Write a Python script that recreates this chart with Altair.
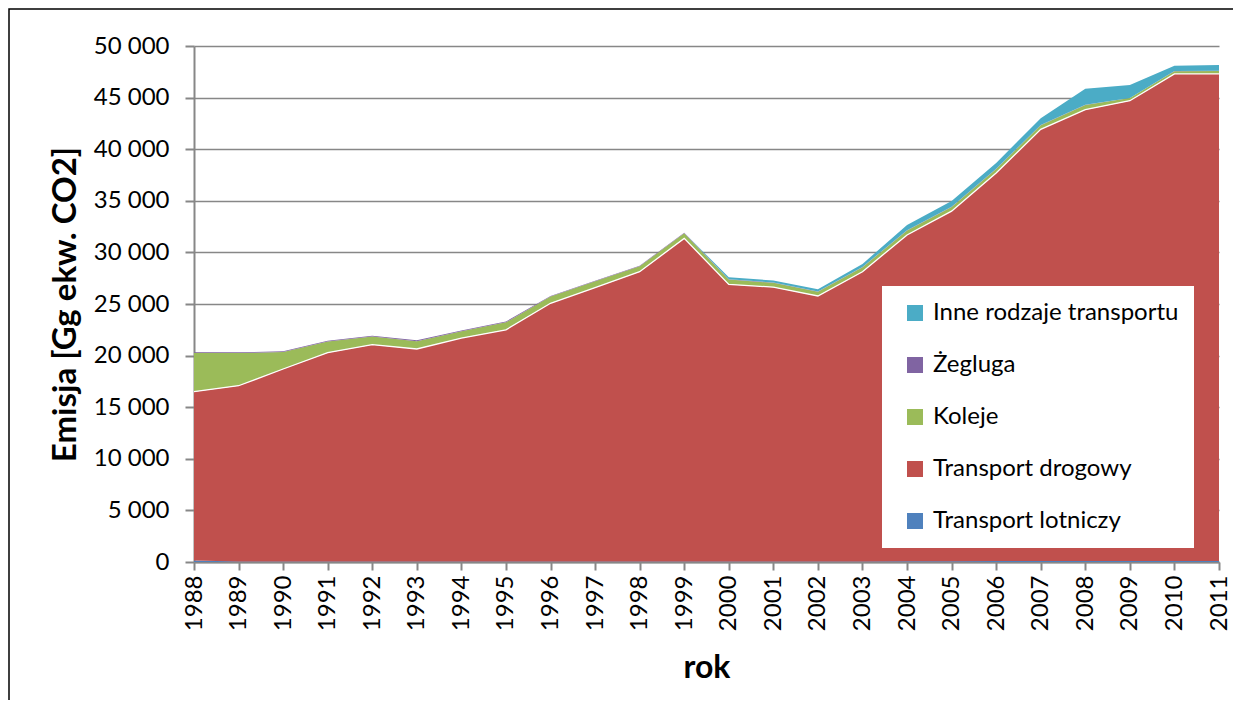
import altair as alt
import pandas as pd

years = list(range(1988, 2012))

lotniczy = [150, 60, 50, 50, 50, 50, 50, 50, 50, 50, 50, 50,
            50, 50, 50, 60, 70, 80, 90, 100, 100, 100, 100, 100]
drogowy = [16350, 17020, 18650, 20230, 21010, 20590, 21650, 22450, 25020, 26530, 28080, 31310,
           26850, 26580, 25730, 28070, 31620, 33920, 37600, 41830, 43730, 44600, 47190, 47190]
koleje = [3770, 3160, 1640, 1080, 790, 760, 650, 720, 650, 620, 530, 500,
          470, 420, 400, 430, 440, 410, 400, 400, 450, 250, 270, 290]
zegluga = [80, 80, 80, 80, 80, 80, 80, 80, 60, 60, 50, 50,
           30, 30, 20, 20, 20, 20, 20, 20, 20, 20, 20, 20]
inne = [0, 0, 0, 0, 0, 0, 0, 0, 0, 0, 0, 0,
        180, 200, 220, 300, 500, 550, 550, 650, 1550, 1250, 510, 560]

series_names = ["Transport lotniczy", "Transport drogowy", "Koleje", "Żegluga", "Inne rodzaje transportu"]
series_values = [lotniczy, drogowy, koleje, zegluga, inne]
legend_order = ["Inne rodzaje transportu", "Żegluga", "Koleje", "Transport drogowy", "Transport lotniczy"]
legend_colors = ["#4BACC6", "#8064A2", "#9BBB59", "#C0504D", "#4F81BD"]

y_ticks = list(range(0, 50001, 5000))

rows = []
for rank, (name, vals) in enumerate(zip(series_names, series_values)):
    for yr, v in zip(years, vals):
        rows.append({"year": yr, "series": name, "value": v, "rank": rank})
df = pd.DataFrame(rows)

FONT = "Lato"
GRAY = "#878787"
YTITLE = "Emisja [Gg ekw. CO2]"

x_axis = alt.Axis(values=years, format="d", labelAngle=-90, labelFontSize=24, labelPadding=5,
                  tickSize=8, grid=False, title="rok", titleFontSize=32, titleFontWeight="bold",
                  titleY=105, titleBaseline="middle")
y_axis = alt.Axis(values=y_ticks, labelExpr="replace(format(datum.value, ','), ',', ' ')",
                  labelFontSize=24, labelPadding=16, tickSize=9, grid=True,
                  title=YTITLE, titleFontSize=33, titleFontWeight="bold",
                  titleX=-129, titleY=258, titleBaseline="middle", titleAlign="center")

xs = alt.Scale(domain=[1988, 2011], nice=False, zero=False)
ys = alt.Scale(domain=[0, 50000], nice=False)

area = alt.Chart(df).mark_area(opacity=1).encode(
    x=alt.X("year:Q", scale=xs, axis=x_axis),
    y=alt.Y("value:Q", stack="zero", scale=ys, axis=y_axis),
    color=alt.Color("series:N", scale=alt.Scale(domain=legend_order, range=legend_colors),
                    legend=alt.Legend(title=None, orient="none", legendX=688, legendY=240,
                                      fillColor="white", padding=15, symbolType="square",
                                      symbolSize=256, symbolStrokeWidth=0, symbolOffset=6,
                                      labelFontSize=24, labelOffset=6, rowPadding=28,
                                      labelLimit=500,
                                      labelColor="black", labelFont=FONT)),
    order=alt.Order("rank:Q", sort="ascending"),
)

line = alt.Chart(df).transform_filter("datum.rank <= 1").transform_aggregate(
    top="sum(value)", groupby=["year"]
).mark_line(color="#FFFFFF", strokeWidth=1.3).encode(
    x=alt.X("year:Q", scale=xs, title="rok"),
    y=alt.Y("top:Q", scale=ys, title=YTITLE),
)

frame = alt.Chart(pd.DataFrame({"a": [0]})).mark_rect(
    fillOpacity=0, stroke="black", strokeWidth=1.5
).encode(x=alt.value(-185), x2=alt.value(1300), y=alt.value(-37), y2=alt.value(900))

chart = alt.layer(area, line, frame).properties(
    width=1025, height=516,
    padding={"left": 186, "top": 38, "right": 14, "bottom": 138},
    autosize=alt.AutoSizeParams(type="none"),
    background="white",
).configure_view(stroke=None).configure_axis(
    labelFont=FONT, titleFont=FONT, labelColor="black", titleColor="black",
    gridColor=GRAY, gridWidth=1.3, domainColor=GRAY, domainWidth=2,
    tickColor=GRAY, tickWidth=2,
)

chart.save("out.html", embed_options={"renderer": "svg", "actions": False})
